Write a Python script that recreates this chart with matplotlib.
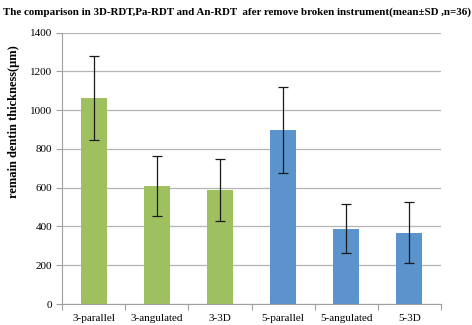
import matplotlib
matplotlib.use("Agg")
import matplotlib.pyplot as plt
import numpy as np

categories = ["3-parallel", "3-angulated", "3-3D", "5-parallel", "5-angulated", "5-3D"]
means = [1063, 610, 587, 898, 389, 368]
sds = [218, 156, 161, 220, 125, 159]
colors = ["#9fc05e", "#9fc05e", "#9fc05e", "#5b93cd", "#5b93cd", "#5b93cd"]
yticks = [0, 200, 400, 600, 800, 1000, 1200, 1400]

plt.rcParams["font.family"] = ["Liberation Serif", "DejaVu Serif"]

fig = plt.figure(figsize=(4.72, 3.25), dpi=100)
ax = fig.add_axes([62/472, 1-304/325, (441-62)/472, (304-32.7)/325])

x = np.arange(len(categories))
ax.bar(x, means, width=0.41, color=colors, zorder=2, linewidth=0)
ax.errorbar(x, means, yerr=sds, fmt="none", ecolor="#1a1a1a", elinewidth=0.9,
            capsize=3.5, capthick=0.9, zorder=3)

ax.set_xlim(-0.5, len(categories) - 0.5)
ax.set_ylim(0, 1400)
ax.set_yticks(yticks)
ax.set_yticklabels([str(t) for t in yticks], fontsize=8)
ax.yaxis.grid(True, color="#b5b5b5", linewidth=0.9, zorder=0)
ax.set_axisbelow(True)

ax.set_xticks(x)
ax.set_xticklabels(categories, fontsize=8)
ax.tick_params(axis="x", length=0, pad=7)
ax.set_xticks(np.arange(-0.5, len(categories)), minor=True)
ax.tick_params(axis="x", which="minor", length=4, color="#a0a0a0", width=0.8)
ax.tick_params(axis="y", length=4, color="#a0a0a0", width=0.8, pad=3)

for s in ["top", "right"]:
    ax.spines[s].set_visible(False)
for s in ["left", "bottom"]:
    ax.spines[s].set_color("#a0a0a0")
    ax.spines[s].set_linewidth(0.8)

fig.text(14/472, 1-122/325, "remain dentin thickness(\u03bcm)", rotation=90,
         ha="center", va="center", fontsize=9, fontweight="bold")
fig.text(236.5/472, 1-12/325,
         "The comparison in 3D-RDT,Pa-RDT and An-RDT  afer remove broken instrument(mean\u00b1SD ,n=36)",
         ha="center", va="center", fontsize=7.9, fontweight="bold")

fig.savefig("out.png", dpi=100)
